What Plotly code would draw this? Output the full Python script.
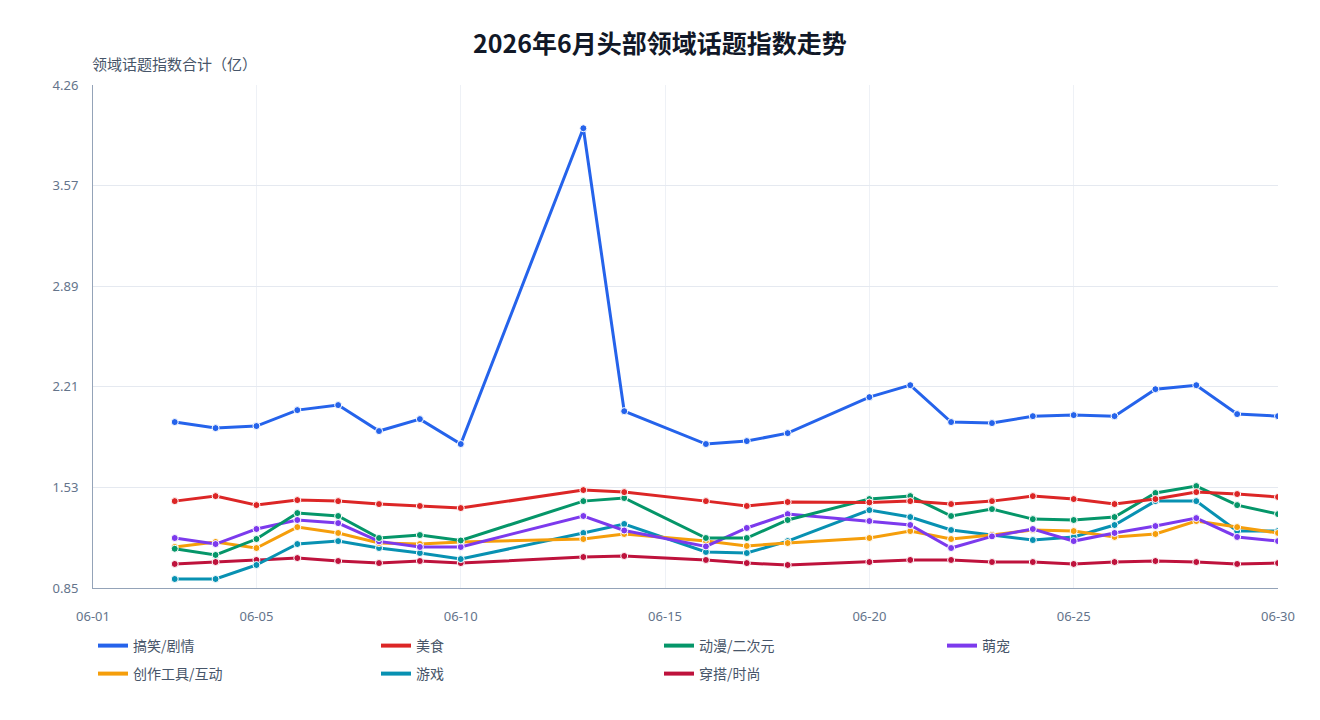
import plotly.graph_objects as go

dates = ["2026-06-03", "2026-06-04", "2026-06-05", "2026-06-06", "2026-06-07", "2026-06-08",
         "2026-06-09", "2026-06-10", "2026-06-13", "2026-06-14", "2026-06-16", "2026-06-17",
         "2026-06-18", "2026-06-20", "2026-06-21", "2026-06-22", "2026-06-23", "2026-06-24",
         "2026-06-25", "2026-06-26", "2026-06-27", "2026-06-28", "2026-06-29", "2026-06-30"]

gaoxiao = [1.975, 1.934, 1.948, 2.056, 2.090, 1.914, 1.995, 1.826, 3.967, 2.049, 1.826, 1.846,
           1.900, 2.144, 2.225, 1.975, 1.968, 2.015, 2.022, 2.015, 2.198, 2.225, 2.029, 2.015]
meishi = [1.439, 1.473, 1.412, 1.446, 1.439, 1.419, 1.406, 1.392, 1.514, 1.500, 1.439, 1.406,
          1.433, 1.430, 1.439, 1.419, 1.439, 1.473, 1.453, 1.419, 1.453, 1.500, 1.487, 1.467]
dongman = [1.116, 1.074, 1.182, 1.358, 1.338, 1.189, 1.209, 1.172, 1.439, 1.460, 1.189, 1.189,
           1.311, 1.453, 1.473, 1.338, 1.385, 1.317, 1.311, 1.331, 1.494, 1.541, 1.412, 1.351]
mengchong = [1.189, 1.148, 1.250, 1.311, 1.290, 1.166, 1.128, 1.128, 1.338, 1.240, 1.132, 1.257,
             1.351, 1.304, 1.277, 1.121, 1.200, 1.250, 1.168, 1.223, 1.270, 1.324, 1.196, 1.168]
chuangzuo = [1.128, 1.162, 1.121, 1.263, 1.223, 1.155, 1.148, 1.162, 1.182, 1.216, 1.168, 1.135,
             1.155, 1.189, 1.236, 1.182, 1.209, 1.243, 1.236, 1.196, 1.216, 1.304, 1.263, 1.223]
youxi = [0.911, 0.911, 1.006, 1.148, 1.168, 1.121, 1.087, 1.046, 1.223, 1.284, 1.094, 1.087,
         1.168, 1.378, 1.331, 1.243, 1.209, 1.175, 1.196, 1.277, 1.439, 1.439, 1.236, 1.236]
chuanda = [1.013, 1.026, 1.040, 1.053, 1.033, 1.019, 1.033, 1.019, 1.060, 1.067, 1.040, 1.019,
           1.006, 1.026, 1.040, 1.040, 1.026, 1.026, 1.013, 1.026, 1.033, 1.026, 1.013, 1.019]

series_names = ["搞笑/剧情", "美食", "动漫/二次元", "萌宠", "创作工具/互动", "游戏", "穿搭/时尚"]
series_values = [gaoxiao, meishi, dongman, mengchong, chuangzuo, youxi, chuanda]
colors = ["#2563eb", "#dc2626", "#059669", "#7c3aed", "#f59e0b", "#0891b2", "#be123c"]

y_tickvals = [0.85, 1.532, 2.214, 2.896, 3.578, 4.26]
y_ticktext = ["0.85", "1.53", "2.21", "2.89", "3.57", "4.26"]
x_tickvals = ["2026-06-01", "2026-06-05", "2026-06-10", "2026-06-15", "2026-06-20", "2026-06-25", "2026-06-30"]
x_ticktext = ["06-01", "06-05", "06-10", "06-15", "06-20", "06-25", "06-30"]

FONT = "Noto Sans CJK SC, Noto Sans, sans-serif"
TICKFONT = "Noto Sans, Noto Sans CJK SC, sans-serif"

fig = go.Figure()
# draw in reverse so the first series ends on top
for name, vals, col in reversed(list(zip(series_names, series_values, colors))):
    fig.add_trace(go.Scatter(
        x=dates, y=vals, name=name, mode="lines+markers", legendgroup=name, showlegend=False,
        line=dict(color=col, width=3),
        marker=dict(size=7, color=col, line=dict(color="white", width=1)),
    ))
for i, (name, col) in enumerate(zip(series_names, colors)):
    fig.add_trace(go.Scatter(
        x=[None], y=[None], name=name, mode="lines", legendgroup=name, showlegend=True,
        legend="legend" if i < 4 else "legend2",
        line=dict(color=col, width=4),
    ))

leg_common = dict(orientation="h", x=0, xanchor="left", yanchor="middle",
                  entrywidth=238, entrywidthmode="pixels", traceorder="normal",
                  font=dict(size=14, color="#475569", family=FONT), bgcolor="rgba(0,0,0,0)")

fig.update_layout(
    width=1320, height=720,
    margin=dict(l=93, r=42, t=85, b=132),
    paper_bgcolor="white", plot_bgcolor="white",
    font=dict(family=FONT, color="#475569", size=13),
    title=dict(text="<b>2026年6月头部领域话题指数走势</b>", x=0.5, xanchor="center",
               y=1 - 44 / 720, yanchor="middle", yref="container",
               font=dict(size=25, color="#111827", family=FONT)),
    showlegend=True,
    legend=dict(leg_common, y=-(646 - 588) / 503),
    legend2=dict(leg_common, y=-(674 - 588) / 503),
    xaxis=dict(type="date", range=["2026-06-01", "2026-06-30"], tickmode="array",
               tickvals=x_tickvals, ticktext=x_ticktext,
               showgrid=True, gridcolor="#eef1f6", gridwidth=1,
               showline=True, linecolor="#94a3b8", linewidth=1,
               ticks="", ticklabelstandoff=16, zeroline=False,
               tickfont=dict(color="#64748b", size=13, family=TICKFONT)),
    yaxis=dict(range=[0.85, 4.26], tickmode="array", tickvals=y_tickvals, ticktext=y_ticktext,
               showgrid=True, gridcolor="#e5e9f0", gridwidth=1,
               showline=True, linecolor="#94a3b8", linewidth=1,
               ticks="", ticklabelstandoff=11, zeroline=False,
               tickfont=dict(color="#64748b", size=13, family=TICKFONT)),
    annotations=[dict(text="领域话题指数合计（亿）", xref="paper", yref="paper", x=0, y=1,
                      xanchor="left", yanchor="bottom", yshift=9, xshift=-3, showarrow=False,
                      font=dict(size=15, color="#475569", family=FONT))],
)

fig.write_html("out.html")
